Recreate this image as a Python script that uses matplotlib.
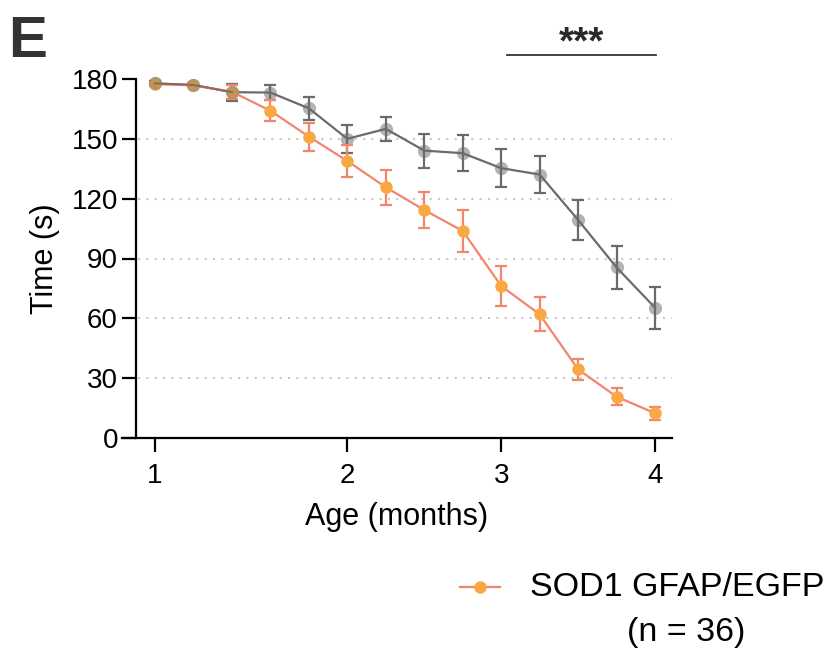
import matplotlib.pyplot as plt
from matplotlib.lines import Line2D

plt.rcParams['font.family'] = ['Liberation Sans', 'DejaVu Sans']

# 14 weekly time points, ticks labelled in months
x_idx = list(range(14))
tick_pos = [0, 5, 9, 13]
tick_labels = ["1", "2", "3", "4"]

sod1_mean = [177.4, 176.8, 173.6, 164.1, 151.1, 138.9, 125.7, 114.3, 103.8, 76.2, 62.0, 34.4, 20.7, 12.4]
sod1_err = [1.0, 1.0, 3.5, 5.3, 7.0, 8.1, 8.7, 9.0, 10.4, 9.9, 8.6, 5.4, 4.4, 3.3]

ctrl_mean = [177.8, 177.0, 173.4, 173.2, 165.3, 150.0, 155.0, 144.1, 142.8, 135.3, 132.1, 109.3, 85.5, 65.3]
ctrl_err = [1.0, 1.0, 4.3, 3.6, 5.7, 6.9, 6.0, 8.5, 8.9, 9.5, 9.2, 9.8, 11.0, 10.4]

fig = plt.figure(figsize=(8.34, 6.52), dpi=100)
ax = fig.add_axes([122 / 834, 1 - 438 / 652, 550 / 834, 359 / 652])

xl = (-0.858, 13.44)
ax.set_xlim(*xl)
ax.set_ylim(0, 180)

for yv in [30, 60, 90, 120, 150]:
    ax.plot([-0.45, xl[1]], [yv, yv], ls=(0, (1, 3)), color="#c8c8c8", lw=1.5, zorder=0)

ax.plot(x_idx, ctrl_mean, "o", color="#8a8a8a", ms=9.5, alpha=0.65, mec="none", zorder=2, clip_on=False)
ax.errorbar(x_idx, ctrl_mean, yerr=ctrl_err, color="#6b6b6b", lw=1.6, capsize=4.5,
            capthick=1.6, elinewidth=1.6, zorder=3, clip_on=False)

ax.errorbar(x_idx, sod1_mean, yerr=sod1_err, color="#f2866a", lw=1.6, capsize=4.5,
            capthick=1.6, elinewidth=1.6, zorder=4, clip_on=False)
ax.plot(x_idx, sod1_mean, "o", color="#f9a843", ms=9, mec="none", zorder=5, clip_on=False)

# control markers sit over the orange ones where the series overlap
ax.plot(x_idx[:3], ctrl_mean[:3], "o", color="#7a7a7a", ms=9.5, alpha=0.45, mec="none", zorder=6, clip_on=False)
ax.plot(x_idx[:3], ctrl_mean[:3], color="#555555", lw=1.4, alpha=0.6, zorder=6, clip_on=False)

for s in ["top", "right"]:
    ax.spines[s].set_visible(False)
ax.spines["left"].set_position(("data", -0.494))
ax.spines["left"].set_linewidth(1.6)
ax.spines["bottom"].set_linewidth(1.6)

ax.set_xticks(tick_pos)
ax.set_xticklabels(tick_labels)
ax.set_yticks([0, 30, 60, 90, 120, 150, 180])
ax.tick_params(axis="both", length=10, width=1.6, labelsize=20, pad=3)
ax.tick_params(axis="x", pad=8)

ax.set_xlabel("Age (months)", fontsize=22, labelpad=9)
ax.set_ylabel("Time (s)", fontsize=22, labelpad=8)

# significance bar
ax.plot([9.15, 13.02], [192, 192], color="#333333", lw=1.3, clip_on=False)
ax.text(11.08, 198, "***", ha="center", va="center", fontsize=28, fontweight="bold", color="#2a2a2a")

fig.text(8 / 834, 1 - 42 / 652, "E", fontsize=42, fontweight="bold", color="#333333", va="center")

# legend
fig.add_artist(Line2D([460 / 834, 500 / 834], [1 - 587 / 652] * 2, color="#f2866a", lw=1.6))
fig.add_artist(Line2D([480 / 834], [1 - 587 / 652], marker="o", color="#f9a843", ms=9, mec="none"))
fig.text(530 / 834, 1 - 587 / 652, "SOD1 GFAP/EGFP", fontsize=24.5, va="center", ha="left")
fig.text(686 / 834, 1 - 632 / 652, "(n = 36)", fontsize=24.5, va="center", ha="center")

fig.savefig("out.png", dpi=100)
